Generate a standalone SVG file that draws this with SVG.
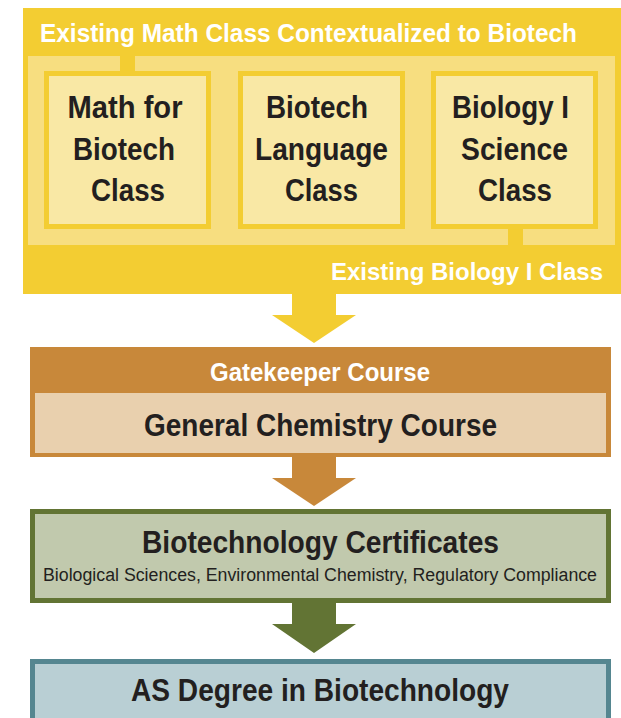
<svg xmlns="http://www.w3.org/2000/svg" width="621" height="718" viewBox="0 0 621 718">
<style>
text{font-family:"Liberation Sans",Arial,sans-serif;font-weight:bold;text-anchor:middle}
.w{fill:#ffffff}
.d{fill:#231f20}
.big{font-size:32px}
.hdr{font-size:26px}
.sub{font-size:18px;font-weight:normal}
.ibox{fill:#f9e8a5;stroke:#f3cd32;stroke-width:5}
</style>
<rect width="621" height="718" fill="#ffffff"/>
<g id="existing-classes">
<rect x="23" y="8" width="598" height="286" fill="#f3cd32"/>
<rect x="28" y="56" width="587" height="189" fill="#f7de80"/>
<rect x="120" y="56" width="15" height="16" fill="#f3cd32"/>
<rect x="508" y="228" width="15" height="17" fill="#f3cd32"/>
<text class="w hdr" x="308.5" y="42" textLength="537" lengthAdjust="spacingAndGlyphs">Existing Math Class Contextualized to Biotech</text>
<text class="w" x="467" y="280" font-size="24" textLength="272" lengthAdjust="spacingAndGlyphs">Existing Biology I Class</text>
</g>
<g id="math-for-biotech">
<rect class="ibox" x="46.5" y="73.5" width="162" height="153"/>
<text class="d big" x="125" y="118" textLength="115" lengthAdjust="spacingAndGlyphs">Math for</text>
<text class="d big" x="124" y="160" textLength="102" lengthAdjust="spacingAndGlyphs">Biotech</text>
<text class="d big" x="128" y="201" textLength="74" lengthAdjust="spacingAndGlyphs">Class</text>
</g>
<g id="biotech-language">
<rect class="ibox" x="240.5" y="73.5" width="162" height="153"/>
<text class="d big" x="317" y="118" textLength="102" lengthAdjust="spacingAndGlyphs">Biotech</text>
<text class="d big" x="321.5" y="160" textLength="133" lengthAdjust="spacingAndGlyphs">Language</text>
<text class="d big" x="321.5" y="201" textLength="73" lengthAdjust="spacingAndGlyphs">Class</text>
</g>
<g id="biology-science">
<rect class="ibox" x="433.5" y="73.5" width="162" height="153"/>
<text class="d big" x="510.5" y="118" textLength="117" lengthAdjust="spacingAndGlyphs">Biology I</text>
<text class="d big" x="514.5" y="160" textLength="107" lengthAdjust="spacingAndGlyphs">Science</text>
<text class="d big" x="515" y="201" textLength="74" lengthAdjust="spacingAndGlyphs">Class</text>
</g>
<g id="connectors">
<polygon points="292,293 336,293 336,315 356,315 314,343 272,315 292,315" fill="#f3cd32"/>
<polygon points="292,456 336,456 336,478 356,478 314,506 272,478 292,478" fill="#c8883a"/>
<polygon points="292,602 336,602 336,624 356,624 314,653 272,624 292,624" fill="#627434"/>
</g>
<g id="gatekeeper">
<rect x="30" y="347" width="581" height="110" fill="#c8883a"/>
<rect x="35" y="393" width="571" height="60" fill="#e9d0ae"/>
<text class="w hdr" x="320" y="381" textLength="220" lengthAdjust="spacingAndGlyphs">Gatekeeper Course</text>
<text class="d big" x="320.5" y="436" textLength="353" lengthAdjust="spacingAndGlyphs">General Chemistry Course</text>
</g>
<g id="certificates">
<rect x="32.5" y="511.5" width="576" height="89" fill="#c1c9ad" stroke="#627434" stroke-width="5"/>
<text class="d big" x="320.5" y="553" textLength="357" lengthAdjust="spacingAndGlyphs">Biotechnology Certificates</text>
<text class="d sub" x="320" y="581" textLength="554" lengthAdjust="spacingAndGlyphs">Biological Sciences, Environmental Chemistry, Regulatory Compliance</text>
</g>
<g id="as-degree">
<rect x="32.5" y="661.5" width="576" height="70" fill="#b9cfd4" stroke="#558690" stroke-width="5"/>
<text class="d big" x="320" y="701" textLength="378" lengthAdjust="spacingAndGlyphs">AS Degree in Biotechnology</text>
</g>
</svg>
